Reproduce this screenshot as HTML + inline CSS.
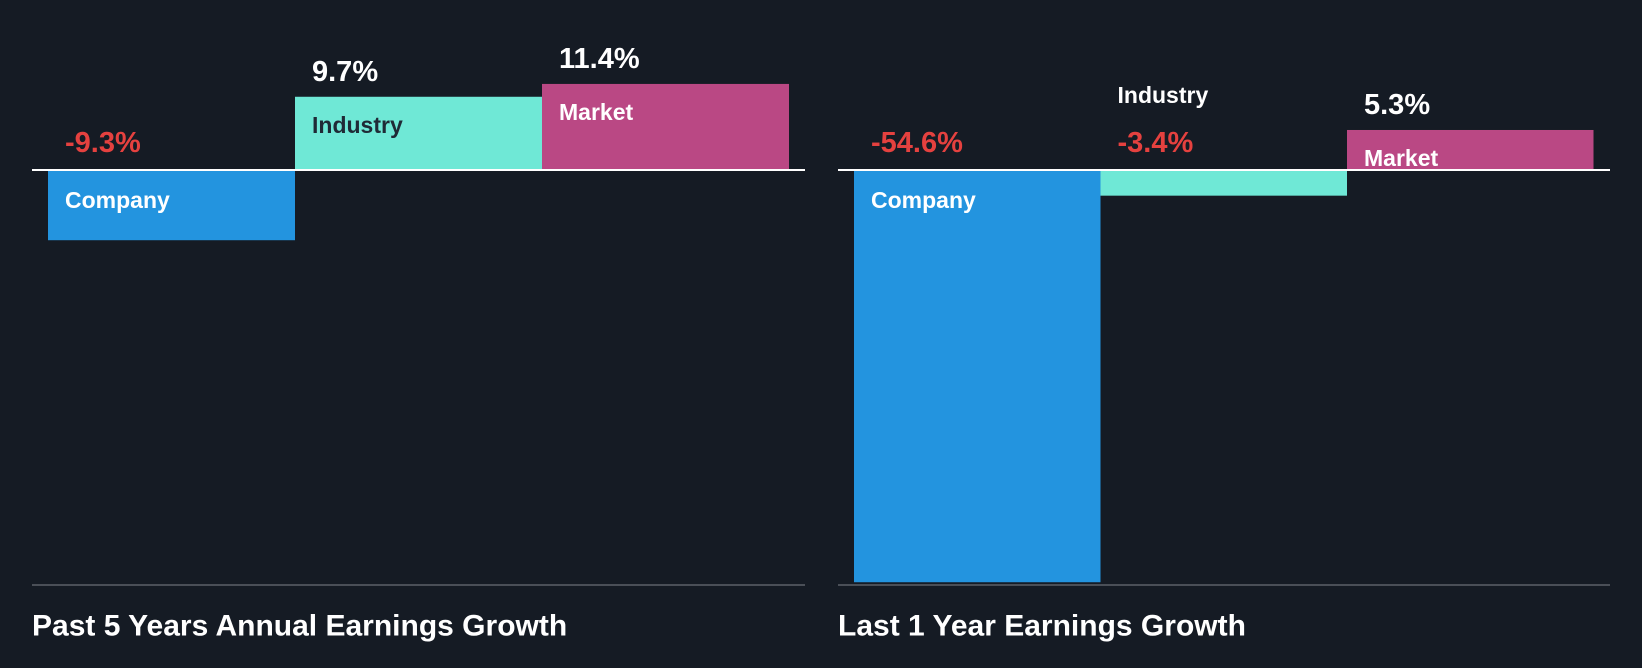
<!DOCTYPE html>
<html><head><meta charset="utf-8"><style>
html,body{margin:0;padding:0;background:#151b24;}
svg{display:block;font-family:"Liberation Sans",sans-serif;font-weight:bold;}
</style></head><body>
<svg id="chart" width="1642" height="668" viewBox="0 0 1642 668">
<rect width="1642" height="668" fill="#151b24"/>
</svg>
<script>
const categories = ["Company", "Industry", "Market"];
const past5Values = [-9.3, 9.7, 11.4];
const last1Values = [-54.6, -3.4, 5.3];
const panelTitles = ["Past 5 Years Annual Earnings Growth", "Last 1 Year Earnings Growth"];
const colors = ["#2394df", "#6fe8d6", "#ba4884"];
const NS = "http://www.w3.org/2000/svg";
const svg = document.getElementById("chart");
const PX = 7.55, BASE = 170;
function y(v){ return BASE - v*PX; }
function mk(tag, attrs, parent){
  const e = document.createElementNS(NS, tag);
  for (const k in attrs) e.setAttribute(k, attrs[k]);
  (parent||svg).appendChild(e); return e;
}
const panels = [
  {vals: past5Values, axisX0: 32, axisX1: 805, barX0: 48, barW: 247, title: panelTitles[0], key:"past-5-years"},
  {vals: last1Values, axisX0: 838, axisX1: 1610, barX0: 854, barW: 246.5, title: panelTitles[1], key:"last-1-year"}
];
panels.forEach(p => {
  const g = mk("g", {});
  
  
  p.vals.forEach((v, i) => {
    const x = p.barX0 + i*p.barW;
    const top = Math.min(y(v), BASE), h = Math.abs(y(v) - BASE);
    const r = mk("rect", {x: x, y: top, width: p.barW, height: h, fill: colors[i]}, g);
    
    
    const tx = x + 17;
    const valTxt = (v > 0 ? "" : "") + v.toFixed(1) + "%";
    const valColor = v < 0 ? "#e5413f" : "#ffffff";
    const nameColor = i === 1 ? "#1f2a36" : "#ffffff";
    let nameY, valY, nameFill = nameColor;
    if (v >= 0) {
      if (h >= 35) { nameY = top + 28; valY = top - 25; }
      else { valY = top - 24; nameY = valY - 49; nameFill = "#ffffff"; }
    } else {
      valY = BASE - 27;
      if (h >= 35) { nameY = BASE + 30; }
      else { nameY = valY - 48; nameFill = "#ffffff"; }
    }
    const nt = mk("text", {x: tx, y: nameY, fill: nameFill, "font-size": 23, "dominant-baseline": "central"}, g);
    nt.textContent = categories[i];
    
    
    const vt = mk("text", {x: tx, y: valY, fill: valColor, "font-size": 29, "dominant-baseline": "central"}, g);
    vt.textContent = valTxt;
    
    
  });
  const zl = mk("line", {x1: p.axisX0, x2: p.axisX1, y1: BASE, y2: BASE, stroke: "#ffffff", "stroke-width": 2}, g);
  
  
  const bl = mk("line", {x1: p.axisX0, x2: p.axisX1, y1: 585, y2: 585, stroke: "#4a4f57", "stroke-width": 2}, g);
  
  
  const t = mk("text", {x: p.axisX0, y: 626, fill: "#ffffff", "font-size": 30, "dominant-baseline": "central"}, g);
  t.textContent = p.title;
  
  
});
</script>
</body></html>
